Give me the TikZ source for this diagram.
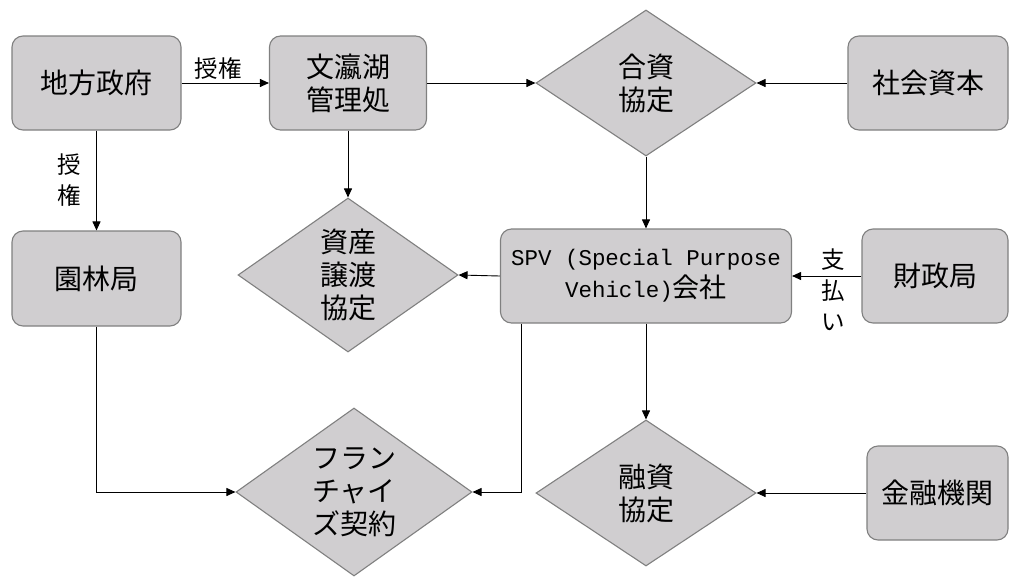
\documentclass[tikz,border=0pt]{standalone}
\usepackage{fontspec}
\setmainfont{Noto Sans CJK JP}
\newfontfamily\monof[Scale=0.833]{Liberation Mono}
\usetikzlibrary{shapes.geometric,arrows.meta}
\definecolor{boxfill}{RGB}{208,206,208}
\definecolor{edgegray}{RGB}{128,128,128}
\begin{document}
\begin{tikzpicture}[x=1pt,y=-1pt,
 box/.style={draw=edgegray,fill=boxfill,rounded corners=11pt,line width=1.1pt,align=center,font=\fontsize{28}{33}\selectfont,inner sep=0pt},
 dia/.style={draw=edgegray,fill=boxfill,diamond,line width=1.1pt,inner sep=0pt},
 dtext/.style={align=center,font=\fontsize{28}{33}\selectfont,inner sep=0pt},
 conn/.style={-{Triangle[length=9pt,width=8pt]},line width=0.9pt},
 lab/.style={font=\fontsize{23.5}{31}\selectfont,align=center}]
\fill[white] (0,0) rectangle (1010,576);
\useasboundingbox (0,0) rectangle (1010,576);
% nodes
\node[box,minimum width=169pt,minimum height=94pt] (gov) at (96.5,83) {地方政府};
\node[box,minimum width=157pt,minimum height=94pt] (wen) at (348,83) {文瀛湖\\管理処};
\node[dia,minimum width=220pt,minimum height=146pt,label={[dtext]center:{合資\\協定}}] (jv) at (646,83) {};
\node[box,minimum width=160pt,minimum height=94pt] (soc) at (928,83) {社会資本};
\node[box,minimum width=169pt,minimum height=95pt] (park) at (96.5,278.5) {園林局};
\node[dia,minimum width=220pt,minimum height=154pt,label={[dtext]center:{資産\\譲渡\\協定}}] (asset) at (348,275) {};
\node[box,minimum width=291pt,minimum height=94pt,font=\fontsize{27}{32}\selectfont] (spv) at (646,276) {{\monof SPV (Special Purpose}\\{\monof Vehicle)}会社};
\node[box,minimum width=146pt,minimum height=94pt] (fin) at (935,276) {財政局};
\node[dia,minimum width=236pt,minimum height=168pt,label={[dtext]center:{フラン\\チャイ\\ズ契約}}] (fr) at (354,492) {};
\node[dia,minimum width=220pt,minimum height=146pt,label={[dtext]center:{融資\\協定}}] (loan) at (646,493) {};
\node[box,minimum width=141pt,minimum height=94pt] (bank) at (937.5,493) {金融機関};
% connectors
\draw[conn] (gov) -- node[lab,above,pos=0.42] {授権} (wen);
\draw[conn] (gov) -- node[lab,left=12pt] {授\\権} (park);
\draw[conn] (wen) -- (jv);
\draw[conn] (soc) -- (jv);
\draw[conn] (wen) -- (asset);
\draw[conn] (jv) -- (spv);
\draw[conn] (spv.west) -- (asset.east);
\draw[conn] (fin) -- node[lab,xshift=6pt,yshift=-14pt] {支\\払\\い} (spv);
\draw[conn] (park.south) |- (fr.west);
\draw[conn] ([xshift=-125pt]spv.south) |- (fr.east);
\draw[conn] (spv) -- (loan);
\draw[conn] (bank) -- (loan);
\end{tikzpicture}
\end{document}
